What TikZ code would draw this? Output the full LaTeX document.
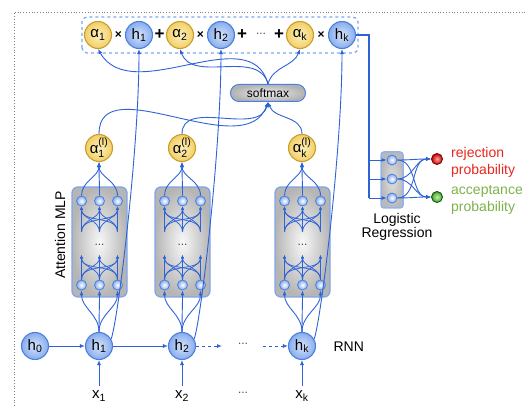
\documentclass[tikz,border=0pt]{standalone}
\usepackage{fontspec}
\usepackage{amsmath}
\setmainfont{Liberation Sans}
\usetikzlibrary{arrows.meta}

\definecolor{wire}{HTML}{2E63D6}
\definecolor{bluein}{HTML}{D6E4FB}
\definecolor{blueout}{HTML}{88ACEC}
\definecolor{blueedge}{HTML}{4A80DE}
\definecolor{dashblue}{HTML}{7EA8F0}
\definecolor{goldin}{HTML}{FDF1BE}
\definecolor{goldout}{HTML}{F2CF66}
\definecolor{goldedge}{HTML}{C99E2A}
\definecolor{rejred}{HTML}{E8261E}
\definecolor{accgreen}{HTML}{7DB24A}

\tikzset{
  lbl/.style={font=\fontsize{14}{16}\selectfont},
  nodelbl/.style={font=\fontsize{15}{16}\selectfont},
  hnode/.style={circle, minimum size=27pt, inner sep=0pt, draw=blueedge,
    line width=1.1pt, inner color=bluein, outer color=blueout, nodelbl},
  anode/.style={circle, minimum size=27pt, inner sep=0pt, draw=goldedge,
    line width=1.1pt, inner color=goldin, outer color=goldout, nodelbl},
  unit/.style={circle, minimum size=10pt, inner sep=0pt, draw=blueedge,
    line width=0.8pt, inner color=white, outer color=blueout},
  mlpbox/.style={draw=blueedge!70, line width=1.3pt, rounded corners=6pt,
    inner color=gray!6, outer color=gray!58, minimum width=55pt,
    minimum height=110pt, inner sep=0pt},
  softbox/.style={draw=blueedge, line width=1pt, rounded corners=8.5pt,
    minimum width=75pt, minimum height=17pt, inner sep=0pt,
    inner color=gray!15, outer color=gray!60, font=\fontsize{12}{12}\selectfont},
  lrbox/.style={draw=blueedge!60, line width=1.5pt, rounded corners=3pt,
    inner color=gray!25, outer color=gray!55, minimum width=22pt,
    minimum height=56pt, inner sep=0pt},
  outnode/.style={circle, minimum size=11pt, inner sep=0pt, line width=0.9pt},
  op/.style={font=\fontsize{10}{10}\selectfont, inner sep=0pt},
  times/.style={font=\fontsize{12}{12}\selectfont\bfseries, inner sep=0pt},
  plus/.style={font=\fontsize{17}{17}\selectfont\bfseries, inner sep=0pt},
  xlab/.style={nodelbl, anchor=base, inner sep=0pt},
  wirestyle/.style={draw=wire, line width=0.9pt},
  arr/.style={wirestyle, -{Latex[length=5pt,width=4pt]}},
  finearr/.style={draw=wire, line width=0.75pt, -{Latex[length=3.5pt,width=3pt]}},
  frame/.style={dotted, line width=0.8pt, gray},
  sumbox/.style={draw=dashblue, dashed, line width=1.3pt, rounded corners=5pt},
}

\begin{document}
\begin{tikzpicture}[x=1pt,y=1pt]
\useasboundingbox (0,0) rectangle (527,406);
\draw[frame] (14,0) -- (14,394) -- (527,394);

% weighted sum of the hidden states
\draw[sumbox] (82,353) rectangle (358,389);
\node[anode] (a1) at (98,371) {α$_{\text{1}}$};
\node[hnode] (t1) at (139,371) {h$_{\text{1}}$};
\node[anode] (a2) at (180,371) {α$_{\text{2}}$};
\node[hnode] (t2) at (221,371) {h$_{\text{2}}$};
\node[anode] (ak) at (300,371) {α$_{\text{k}}$};
\node[hnode] (tk) at (342,371) {h$_{\text{k}}$};
\node[times] at (118.5,371) {×};
\node[times] at (200.5,371) {×};
\node[times] at (321,371) {×};
\node[plus] at (159.5,371) {+};
\node[plus] at (242,371) {+};
\node[plus] at (279,371) {+};
\node[op] at (261,371) {···};

% softmax
\node[softbox] (sm) at (268,313) {softmax};

% attention scores
\node[anode] (l1) at (99,258) {α$^{\text{(l)}}_{\text{1}}$};
\node[anode] (l2) at (182,258) {α$^{\text{(l)}}_{\text{2}}$};
\node[anode] (lk) at (302,258) {α$^{\text{(l)}}_{\text{k}}$};

% attention MLPs
\foreach \n/\cx in {1/99.5, 2/182.5, k/302.5} {
  \node[mlpbox] (box\n) at (\cx,164) {};
  \foreach \j/\dx in {1/-18, 2/0, 3/18} {
    \node[unit] (top\n\j) at ({\cx+\dx},205) {};
    \node[unit] (bot\n\j) at ({\cx+\dx},121) {};
    \coordinate (fin\n\j) at ({\cx+\dx},174);
    \coordinate (fout\n\j) at ({\cx+\dx},151);
  }
  \node[op] at (\cx,160) {···};
}
\node[lbl, rotate=90] at (60,171) {Attention MLP};

% RNN
\node[hnode] (h0) at (35,60) {h$_{\text{0}}$};
\node[hnode] (h1) at (99,60) {h$_{\text{1}}$};
\node[hnode] (h2) at (182,60) {h$_{\text{2}}$};
\node[hnode] (hk) at (302,60) {h$_{\text{k}}$};
\coordinate (d1) at (222,60);
\coordinate (d2) at (263,60);
\node[op] at (243,61) {···};
\node[lbl, anchor=base west] at (330,54) {RNN};

\node[xlab] (x1) at (99,7) {x$_{\text{1}}$};
\node[xlab] (x2) at (182,7) {x$_{\text{2}}$};
\node[xlab] (xk) at (302,7) {x$_{\text{k}}$};
\node[op] at (243,12) {···};

% logistic regression
\node[lrbox] (lr) at (392,226) {};
\node[unit] (u1) at (392,246) {};
\node[unit] (u2) at (392,227) {};
\node[unit] (u3) at (392,208) {};
\node[outnode, draw=red!55!black, inner color=red!35, outer color=red!75!black] (rej) at (437,247) {};
\node[outnode, draw=green!40!black, inner color=green!35!white, outer color=accgreen!80!black] (acc) at (437,209) {};
\node[lbl, anchor=base] at (397,182) {Logistic};
\node[lbl, anchor=base] at (397,168) {Regression};
\node[lbl, anchor=base west, text=rejred, inner sep=0pt] at (451,248) {rejection};
\node[lbl, anchor=base west, text=rejred, inner sep=0pt] at (451,231) {probability};
\node[lbl, anchor=base west, text=accgreen, inner sep=0pt] at (451,211) {acceptance};
\node[lbl, anchor=base west, text=accgreen, inner sep=0pt] at (451,194) {probability};

% ---- connectors ----
\draw[arr] (h0) -- (h1);
\draw[arr] (h1) -- (h2);
\draw[arr, dashed] (h2) -- (d1);
\draw[arr, dashed] (d2) -- (hk);
\draw[arr, shorten <=5pt] (x1) -- (h1);
\draw[arr, shorten <=5pt] (x2) -- (h2);
\draw[arr, shorten <=5pt] (xk) -- (hk);

\foreach \n in {1,2,k} {
  \foreach \i in {1,2,3} {
    \draw[arr] (h\n.north) to[out=90,in=-90] (bot\n\i.south);
    \draw[arr] (top\n\i.north) to[out=90,in=-90] (l\n.south);
    \foreach \j in {1,2,3} {
      \draw[finearr] (fin\n\j) to[out=90,in=-90] (top\n\i.south);
      \draw[finearr] (bot\n\i.north) to[out=90,in=-90] (fout\n\j);
    }
  }
}

% hidden states carried to the weighted sum
\draw[arr] (h1.30) to[out=70,in=-90,out distance=20pt,in distance=100pt] (t1.south);
\draw[arr] (h2.30) to[out=70,in=-90,out distance=20pt,in distance=100pt] (t2.south);
\draw[arr] (hk.30) to[out=70,in=-90,out distance=20pt,in distance=100pt] (tk.south);

% scores through the softmax
\draw[arr] (l1.north) to[out=90,in=-110] (sm.south);
\draw[arr] (l2.north) to[out=90,in=-105] (sm.south);
\draw[arr] (lk.north) to[out=90,in=-70] (sm.south);
\draw[arr] (sm.north) to[out=105,in=-60] (a1.south);
\draw[arr] (sm.north) to[out=105,in=-70] (a2.south);
\draw[arr] (sm.north) to[out=75,in=-110] (ak.south);

% context vector into the classifier
\coordinate (tap) at (369,371);
\coordinate (b1) at (369,246);
\coordinate (b2) at (369,227);
\coordinate (b3) at (369,208);
\draw[wirestyle, line width=1.3pt] (tk.east) -- (tap) -- (b3);
\draw[arr] (b1) -- (u1);
\draw[arr] (b2) -- (u2);
\draw[arr] (b3) -- (u3);
\foreach \u in {u1,u2,u3} {
  \draw[arr] (\u) to[out=0,in=180] (rej);
  \draw[arr] (\u) to[out=0,in=180] (acc);
}
\end{tikzpicture}
\end{document}
